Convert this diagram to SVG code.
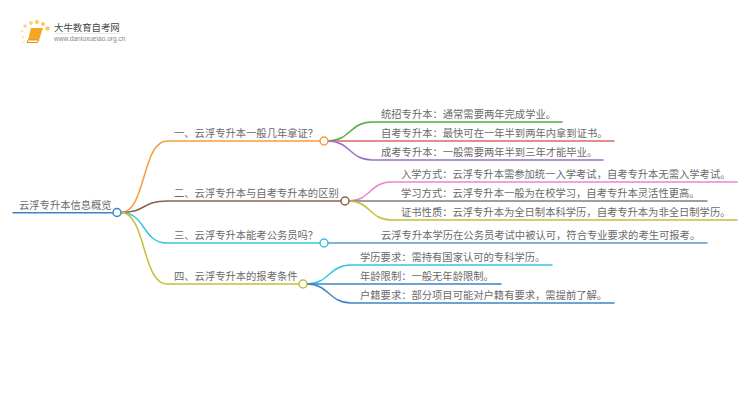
<svg xmlns="http://www.w3.org/2000/svg" width="750" height="410" viewBox="0 0 750 410">
<style>
.t{font-family:"Noto Sans CJK SC","Liberation Sans",sans-serif;font-size:10.3px;fill:#6a6a6a}
.c{fill:none;stroke-width:1.5;stroke-linecap:round}
.n{fill:#fff;stroke-width:1.5}
</style>
<rect width="750" height="410" fill="#fff"/>
<g id="logo">
<circle cx="25" cy="26" r="1.8" fill="#fbd27a"/><circle cx="22" cy="31" r="1.5" fill="#fde3ae"/><circle cx="31" cy="23" r="2" fill="#fbd27a"/><circle cx="37" cy="22" r="2" fill="#fbc95c"/><circle cx="43" cy="24" r="2" fill="#fbc95c"/><circle cx="47.500" cy="28.500" r="2.200" fill="#fbc95c"/><circle cx="23" cy="37" r="1.200" fill="#fde3ae"/><circle cx="23.500" cy="42.500" r="1" fill="#fde3ae"/>
<path d="M31 28H43L39 40H28Z" fill="#f5a623"/><path d="M28 40H39L37.500 42.500H27Z" fill="#fff" stroke="#e8891a" stroke-width="1"/>
<text x="54" y="31" style="font-family:'Noto Sans CJK SC',sans-serif;font-size:9.400px;fill:#444">大牛教育自考网</text>
<path d="M54 33.500H120" stroke="#ddd" stroke-width=".6"/>
<text x="54" y="41" style="font-family:'Liberation Sans',sans-serif;font-size:6.600px;fill:#888">www.daniuxueiao.org.cn</text>
</g>
<g id="connectors">
<path class="c" stroke="#3d85c6" d="M13 212.700H113"/>
<path class="c" stroke="#fb9a3d" d="M121 212.500C146 212.500 142 141 167 141H320"/>
<path class="c" stroke="#8f5f50" d="M121 212.500C146 212.500 142 201 167 201H341"/>
<path class="c" stroke="#35c6dc" d="M121 212.500C146 212.500 142 243 167 243H320"/>
<path class="c" stroke="#c4bf3a" d="M121 212.500C146 212.500 142 284 167 284H299"/>
<path class="c" stroke="#4caf3e" d="M328 141C350 141 350 122 372 122H562"/>
<path class="c" stroke="#e06666" d="M328 141H614"/>
<path class="c" stroke="#9a6fc9" d="M328 141C350 141 350 160 372 160H603"/>
<path class="c" stroke="#ee82d0" d="M349 201C370 201 370 182 391 182H737"/>
<path class="c" stroke="#808080" d="M349 201H707"/>
<path class="c" stroke="#c4bf3a" d="M349 201C370 201 370 220 391 220H737"/>
<path class="c" stroke="#5b9bd0" d="M328 243H707"/>
<path class="c" stroke="#35c6dc" d="M307 284C329 284 329 265 351 265H552"/>
<path class="c" stroke="#3d85c6" d="M307 284H501"/>
<path class="c" stroke="#3d85c6" d="M307 284C329 284 329 303 351 303H614"/>
</g>
<g id="root"><circle class="n" stroke="#3d85c6" cx="117" cy="212.500" r="4"/><text class="t" x="19" y="209">云浮专升本信息概览</text></g>
<g id="b1"><circle class="n" stroke="#fb9a3d" cx="324" cy="141" r="4"/><text class="t" x="174" y="137">一、云浮专升本一般几年拿证&#xFF1F;</text></g>
<g id="b2"><circle class="n" stroke="#8f5f50" cx="345" cy="201" r="4"/><text class="t" x="174" y="197">二、云浮专升本与自考专升本的区别</text></g>
<g id="b3"><circle class="n" stroke="#35c6dc" cx="324" cy="243" r="4"/><text class="t" x="174" y="239">三、云浮专升本能考公务员吗&#xFF1F;</text></g>
<g id="b4"><circle class="n" stroke="#c4bf3a" cx="303" cy="284" r="4"/><text class="t" x="174" y="280">四、云浮专升本的报考条件</text></g>
<g id="n11"><text class="t" x="381" y="118">统招专升本&#xFF1A;通常需要两年完成学业。</text></g>
<g id="n12"><text class="t" x="381" y="137">自考专升本&#xFF1A;最快可在一年半到两年内拿到证书。</text></g>
<g id="n13"><text class="t" x="381" y="156">成考专升本&#xFF1A;一般需要两年半到三年才能毕业。</text></g>
<g id="n21"><text class="t" x="401" y="178">入学方式&#xFF1A;云浮专升本需参加统一入学考试&#xFF0C;自考专升本无需入学考试。</text></g>
<g id="n22"><text class="t" x="401" y="197">学习方式&#xFF1A;云浮专升本一般为在校学习&#xFF0C;自考专升本灵活性更高。</text></g>
<g id="n23"><text class="t" x="401" y="216">证书性质&#xFF1A;云浮专升本为全日制本科学历&#xFF0C;自考专升本为非全日制学历。</text></g>
<g id="n31"><text class="t" x="381" y="239">云浮专升本学历在公务员考试中被认可&#xFF0C;符合专业要求的考生可报考。</text></g>
<g id="n41"><text class="t" x="360" y="261">学历要求&#xFF1A;需持有国家认可的专科学历。</text></g>
<g id="n42"><text class="t" x="360" y="280">年龄限制&#xFF1A;一般无年龄限制。</text></g>
<g id="n43"><text class="t" x="360" y="299">户籍要求&#xFF1A;部分项目可能对户籍有要求&#xFF0C;需提前了解。</text></g>
</svg>
